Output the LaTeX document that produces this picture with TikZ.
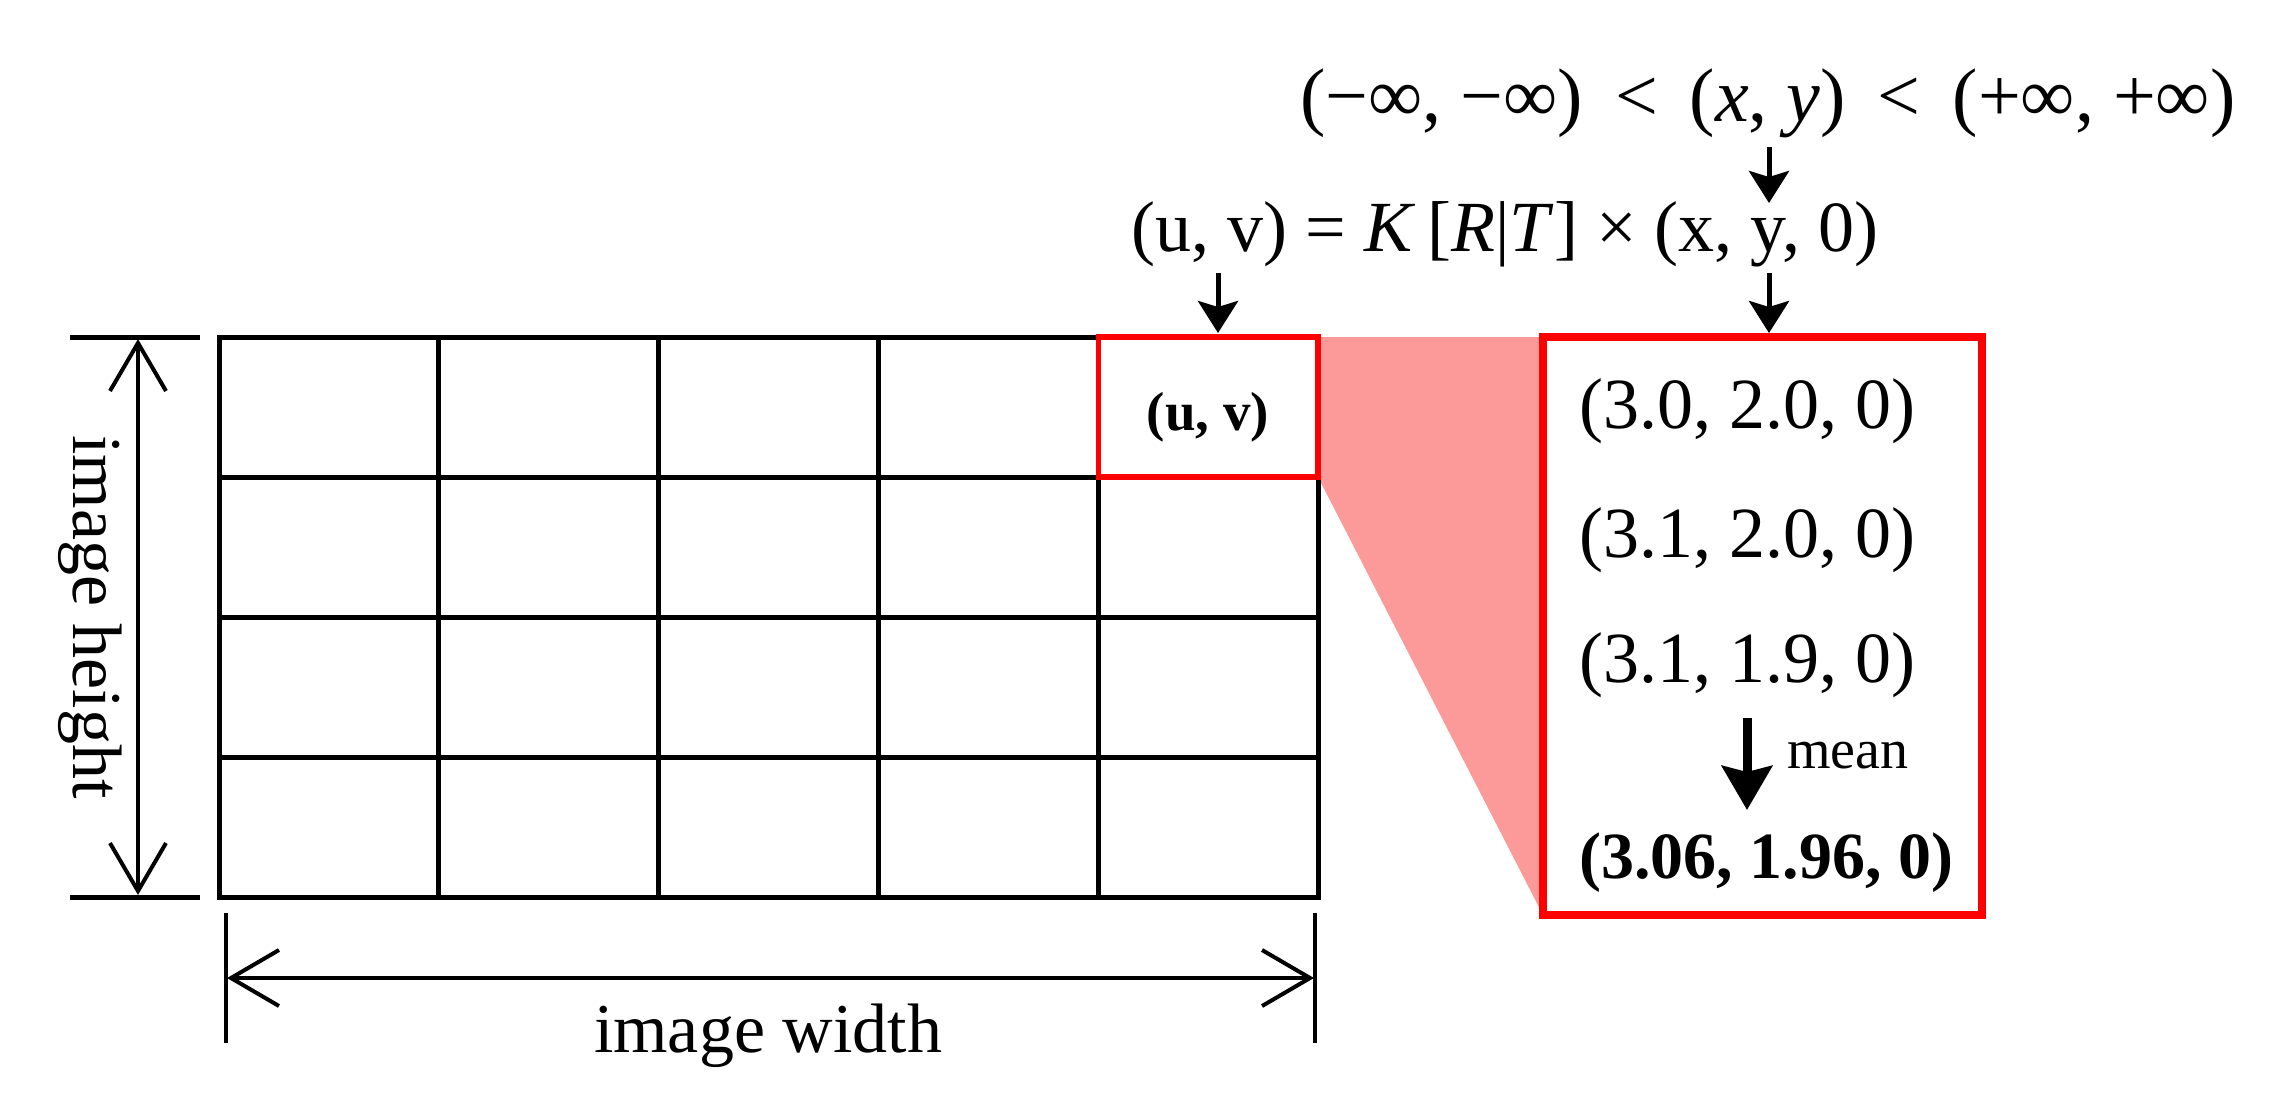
\documentclass[tikz,border=0pt]{standalone}
\usepackage{fontspec}
\setmainfont{Liberation Serif}
\usetikzlibrary{arrows.meta}
\definecolor{boxred}{RGB}{255,0,0}
\definecolor{pinkfill}{RGB}{252,154,154}
\tikzset{
  gridline/.style={line width=2.5pt, draw=black},
  redcell/.style={draw=boxred, line width=2.6pt},
  redbox/.style={draw=boxred, line width=3.6pt, inner sep=0pt},
  txt/.style={font=\fontsize{36}{43}\selectfont, inner sep=0pt},
  boldtxt/.style={font=\fontsize{33}{40}\selectfont\bfseries, inner sep=0pt},
  downarrow/.style={line width=2.5pt, -{Stealth[length=16pt,width=20pt,inset=3pt]}},
  meanarrow/.style={line width=4.5pt, -{Stealth[length=22pt,width=25pt,inset=3pt]}},
  dimline/.style={line width=2pt, {Straight Barb[length=24pt,width=28pt]}-{Straight Barb[length=24pt,width=28pt]}},
  dimtick/.style={line width=2.5pt},
  thintick/.style={line width=1.7pt}
}
\newcommand{\ltsp}{\hspace{0.42em}<\hspace{0.42em}}
\begin{document}
\begin{tikzpicture}[x=0.5pt,y=-0.5pt]
\useasboundingbox (0,0) rectangle (2270,1100);
% pink zoom wedge
\fill[pinkfill] (1318,337) -- (1543,337) -- (1543,915) -- (1318,477) -- cycle;
% grid
\draw[gridline] (219,337) rectangle (1318,897);
\foreach \x in {438.8,658.6,878.4,1098.2} \draw[gridline] (\x,337) -- (\x,897);
\foreach \y in {477,617,757} \draw[gridline] (219,\y) -- (1318,\y);
% red cell
\draw[redcell] (1098.2,337) rectangle (1318,477);
\node[boldtxt, font=\fontsize{27.5}{33}\selectfont\bfseries] (uv) at (1208,417) {(u, v)};
% big red box
\node[redbox, minimum width=219.5pt, minimum height=289pt] (box) at (1762.5,626) {};
\node[txt] (p1) at (1747,411) {(3.0, 2.0, 0)};
\node[txt] (p2) at (1747,540) {(3.1, 2.0, 0)};
\node[txt] (p3) at (1747,665) {(3.1, 1.9, 0)};
\node[boldtxt] (pm) at (1766,863) {(3.06, 1.96, 0)};
\coordinate (ms) at (1747,718);
\coordinate (me) at (1747,810);
\draw[meanarrow] (ms) -- (me);
\node[inner sep=0pt, font=\fontsize{28}{34}\selectfont, anchor=west] (mean) at (1787,756) {mean};
% formulas
\node[txt, font=\fontsize{38}{45}\selectfont] (f1) at (1768,103) {(−∞, −∞)\ltsp(\textit{x}, \textit{y})\ltsp(+∞, +∞)};
\node[txt] (f2) at (1505,234) {(u, v) = \textit{K}\,[\textit{R}|\textit{T}] × (x, y, 0)};
\coordinate (a1s) at (1769,147);
\coordinate (a1e) at (1769,203);
\coordinate (a2s) at (1769,273);
\coordinate (a2e) at (1769,333);
\coordinate (a3s) at (1218,273);
\coordinate (a3e) at (1218,333);
\draw[downarrow] (a1s) -- (a1e);
\draw[downarrow] (a2s) -- (a2e);
\draw[downarrow] (a3s) -- (a3e);
% vertical dimension
\coordinate (vt1a) at (70,337); \coordinate (vt1b) at (200,337);
\coordinate (vt2a) at (70,897); \coordinate (vt2b) at (200,897);
\draw[dimtick] (vt1a) -- (vt1b);
\draw[dimtick] (vt2a) -- (vt2b);
\coordinate (vds) at (138,339);
\coordinate (vde) at (138,895);
\draw[dimline] (vds) -- (vde);
\node[txt, font=\fontsize{35}{42}\selectfont, rotate=-90] (ih) at (90,617) {image height};
% horizontal dimension
\coordinate (ht1a) at (226,913); \coordinate (ht1b) at (226,1043);
\coordinate (ht2a) at (1315,913); \coordinate (ht2b) at (1315,1043);
\draw[thintick] (ht1a) -- (ht1b);
\draw[thintick] (ht2a) -- (ht2b);
\coordinate (hds) at (227,978);
\coordinate (hde) at (1314,978);
\draw[dimline] (hds) -- (hde);
\node[txt, font=\fontsize{35}{42}\selectfont] (iw) at (768,1036) {image width};
\end{tikzpicture}
\end{document}
